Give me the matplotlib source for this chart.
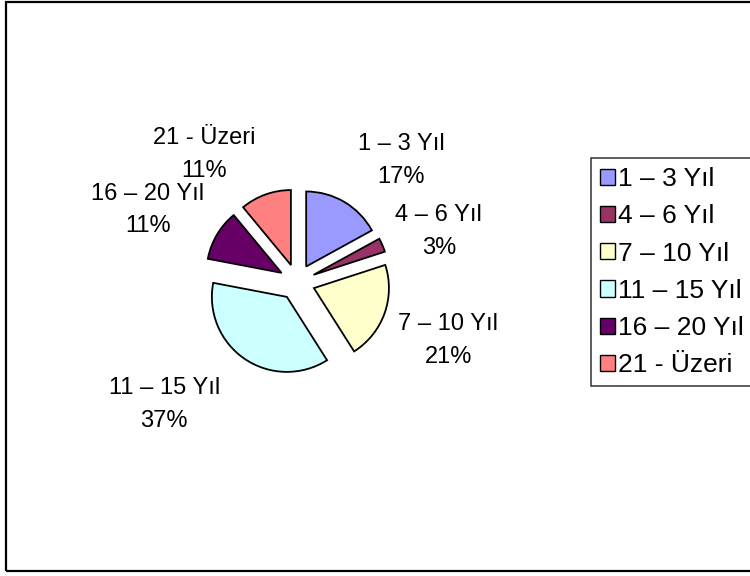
import matplotlib
matplotlib.use("Agg")
import matplotlib.pyplot as plt
from matplotlib.patches import Rectangle, Patch

categories = ["1 – 3 Yıl", "4 – 6 Yıl", "7 – 10 Yıl", "11 – 15 Yıl", "16 – 20 Yıl", "21 - Üzeri"]
percentages = [17, 3, 21, 37, 11, 11]
colors = ["#9999FF", "#993366", "#FFFFCC", "#CCFFFF", "#660066", "#FF8080"]

# label positions in data units (pie radius = 1)
label_pos = [(1.39, 1.62), (1.89, 0.67), (2.02, -0.78), (-1.77, -1.63), (-1.99, 0.96), (-1.24, 1.70)]

W, H = 750, 576
fig = plt.figure(figsize=(W / 100, H / 100), dpi=100)
fig.patch.set_facecolor("white")

# chart border
fig.add_artist(Rectangle((6 / W, 1 - 571 / H), (770 - 6) / W, (571 - 2) / H,
                         transform=fig.transFigure, fill=False, edgecolor="black", linewidth=1.6))

cx, cy, half = 297, 282, 150
ax = fig.add_axes([(cx - half) / W, (H - cy - half) / H, 2 * half / W, 2 * half / H])
ax.set_xlim(-2, 2)
ax.set_ylim(-2, 2)
ax.set_aspect("equal")
ax.axis("off")

wedges, _ = ax.pie(percentages, colors=colors, startangle=90, counterclock=False,
                   explode=[0.24] * len(percentages), radius=1.0,
                   wedgeprops=dict(edgecolor="black", linewidth=1.3))
ax.set_xlim(-2, 2)
ax.set_ylim(-2, 2)

for cat, pct, (lx, ly) in zip(categories, percentages, label_pos):
    ax.text(lx, ly, f"{cat}\n{pct}%", ha="center", va="center", fontsize=17,
            family="Liberation Sans", linespacing=1.62, clip_on=False)

handles = [Patch(facecolor=c, edgecolor="black", linewidth=1.0) for c in colors]
leg = fig.legend(handles, categories, loc="upper left",
                 bbox_to_anchor=(591 / W, 1 - 158 / H),
                 prop=dict(family="Liberation Sans", size=19),
                 frameon=True, fancybox=False, shadow=False,
                 handlelength=0.57, handleheight=0.57, handletextpad=0.12,
                 labelspacing=0.5, borderpad=0.35, borderaxespad=0.0)
leg.get_frame().set_edgecolor("black")
leg.get_frame().set_linewidth(1.1)

fig.savefig("out.png", dpi=100)
